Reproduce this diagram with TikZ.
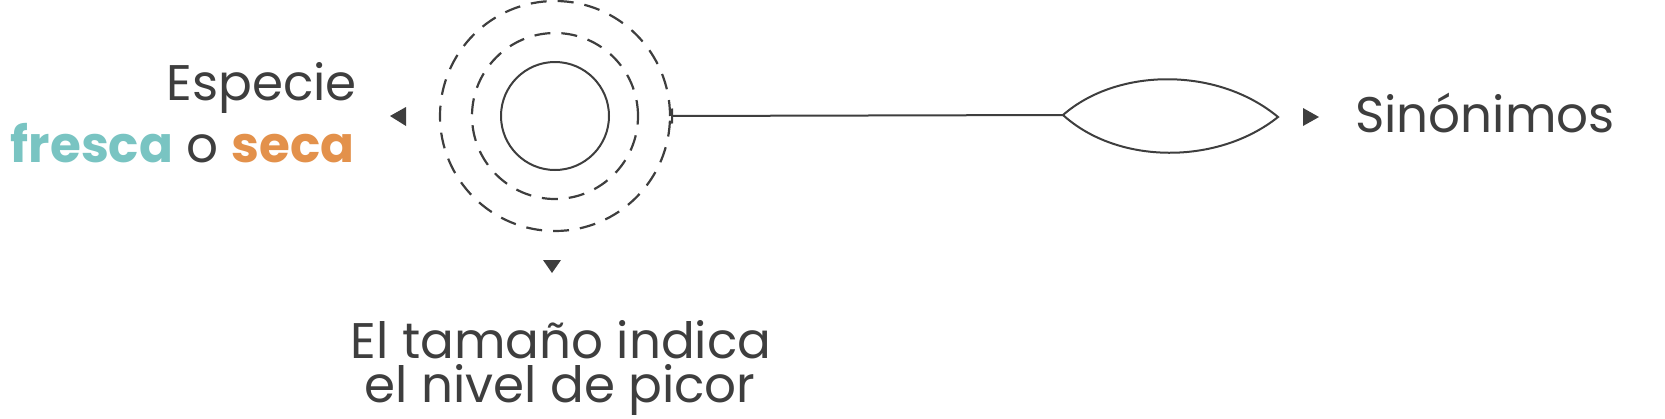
\documentclass[tikz,border=0pt]{standalone}
\usepackage{fontspec}
\setmainfont{Poppins}
\usetikzlibrary{arrows.meta}
\definecolor{ink}{HTML}{3E3E3E}
\definecolor{teal}{HTML}{79C4C2}
\definecolor{orng}{HTML}{E3914B}
\tikzset{
  lbl/.style={inner sep=0pt, text=ink, font=\fontsize{50}{60}\selectfont},
  ring/.style={draw=ink, line width=2.2pt, dash pattern=on 16pt off 11pt, circle, inner sep=0pt},
  core/.style={draw=ink, line width=2pt, circle, inner sep=0pt},
  pointer/.style={fill=ink, draw=none},
  wire/.style={draw=ink, line width=2pt},
}
\begin{document}
\begin{tikzpicture}[x=1pt,y=-1pt]
\useasboundingbox (0,0) rectangle (1665,418);
% circles
\node[ring, minimum size=230pt] (outer) at (555,116) {};
\node[ring, minimum size=166pt] (middle) at (555,116) {};
\node[core, minimum size=108pt] (inner) at (555,116) {};
% lens
\coordinate (lensL) at (1063,115);
\coordinate (lensR) at (1278,117);
\draw[wire, line join=miter] (lensL) .. controls (1118,67) and (1218,67) .. (lensR)
  .. controls (1218,165) and (1118,165) .. (lensL);
\draw[wire, {Bar[width=15pt,line width=2pt]}-] (outer.east) -- (lensL);
% markers
\fill[pointer] (390,116) -- (406,107) -- (406,126) -- cycle;
\fill[pointer] (1303,108) -- (1319,117) -- (1303,126) -- cycle;
\fill[pointer] (543,260) -- (561,260) -- (552,273) -- cycle;
% labels
\node[lbl, anchor=base east] (esp) at (357,100) {Especie};
\node[lbl, anchor=base east] (fs) at (355,162) {\textbf{\color{teal}fresca} o \textbf{\color{orng}seca}};
\node[lbl, anchor=base west] (sin) at (1355,132) {Sinónimos};
\node[lbl, anchor=base] (t1) at (561,358) {El tamaño indica};
\node[lbl, anchor=base] (t2) at (560,402) {el nivel de picor};
\end{tikzpicture}
\end{document}
